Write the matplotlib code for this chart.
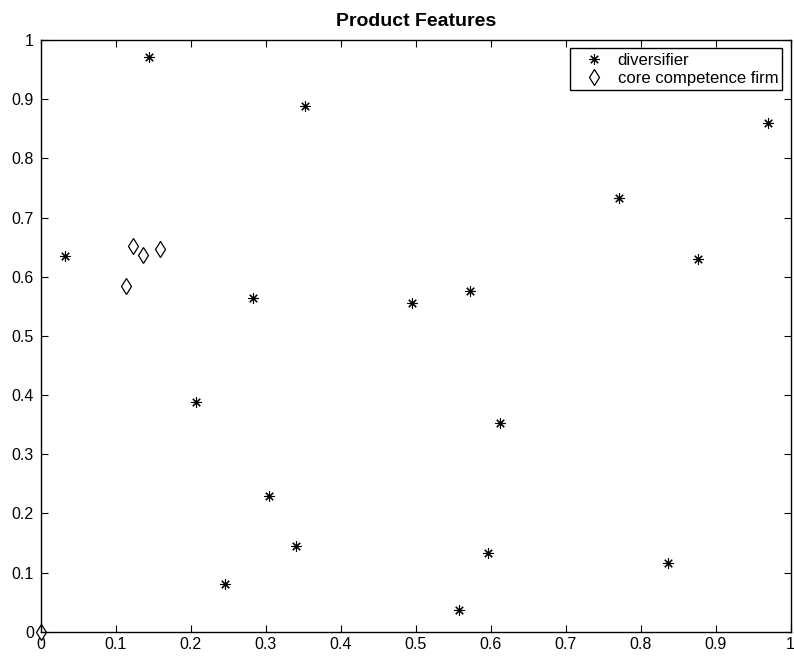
import matplotlib.pyplot as plt

# diversifier positions (x, y)
div_x = [0.144, 0.353, 0.032, 0.283, 0.970, 0.771, 0.876, 0.572, 0.495,
         0.207, 0.304, 0.340, 0.246, 0.613, 0.596, 0.558, 0.837]
div_y = [0.971, 0.888, 0.635, 0.564, 0.859, 0.733, 0.630, 0.576, 0.556,
         0.388, 0.230, 0.145, 0.081, 0.353, 0.133, 0.037, 0.116]

# core competence firm positions
core_x = [0.0, 0.114, 0.123, 0.137, 0.159]
core_y = [0.0, 0.584, 0.652, 0.637, 0.647]

ticks = [0, 0.1, 0.2, 0.3, 0.4, 0.5, 0.6, 0.7, 0.8, 0.9, 1]
tick_labels = ['0', '0.1', '0.2', '0.3', '0.4', '0.5', '0.6', '0.7', '0.8', '0.9', '1']


def main():
    plt.rcParams['font.family'] = ['Liberation Sans', 'DejaVu Sans']

    fig = plt.figure(figsize=(7.94, 6.57), dpi=100)
    ax = fig.add_axes([0.0513, 0.0385, 0.9445, 0.9006])

    ax.plot(div_x, div_y, linestyle='none', marker=(8, 2, 0), markersize=7.5,
            markeredgewidth=0.8, color='black', label='diversifier', clip_on=False)
    ax.plot(core_x, core_y, linestyle='none', marker='d', markersize=7.8,
            markeredgewidth=0.9, markerfacecolor='white', markeredgecolor='black',
            label='core competence firm', clip_on=False)

    ax.set_xlim(0, 1)
    ax.set_ylim(0, 1)
    ax.set_xticks(ticks)
    ax.set_xticklabels(tick_labels)
    ax.set_yticks(ticks)
    ax.set_yticklabels(tick_labels)
    ax.tick_params(direction='in', length=5, width=0.8, top=True, right=True,
                   labelsize=11.5)
    ax.tick_params(axis='x', pad=4)
    ax.tick_params(axis='y', pad=5)
    for s in ax.spines.values():
        s.set_linewidth(1.0)

    ax.set_title('Product Features', fontsize=14, fontweight='bold', pad=10)

    leg = ax.legend(loc='upper right', fontsize=12, frameon=True, fancybox=False,
                    edgecolor='black', framealpha=1, borderaxespad=0.5,
                    handlelength=2.4, handletextpad=0.2, borderpad=0.25,
                    labelspacing=0.22)
    leg.get_frame().set_linewidth(1.0)

    plt.savefig('out.png', dpi=100)


if __name__ == "__main__":
    main()
